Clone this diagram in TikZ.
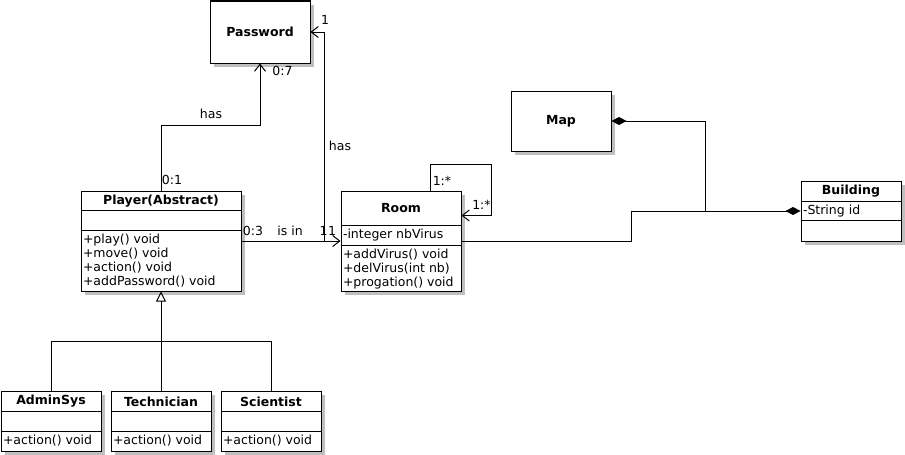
\documentclass[tikz,border=0pt]{standalone}
\usepackage{fontspec}
\setmainfont{DejaVu Sans}
\usetikzlibrary{calc}
\usetikzlibrary{arrows.meta, shadows}

\begin{document}
\begin{tikzpicture}[x=1pt, y=-1pt, line width=1pt,
    font=\fontsize{12.5}{14}\selectfont,
    classbox/.style={draw, fill=white, anchor=north west, inner sep=0pt,
        drop shadow={shadow xshift=4pt, shadow yshift=-4pt, fill=black!25, opacity=1}},
    title/.style={font=\fontsize{12.5}{14}\selectfont\bfseries, inner sep=0pt},
    members/.style={anchor=north west, align=left, inner sep=1pt},
    lbl/.style={inner sep=0pt},
    assoc/.style={-{Straight Barb[length=7pt, width=11pt]}},
    gen/.style={-{Triangle[open, length=10pt, width=10pt]}},
    comp/.style={-{Diamond[length=15pt, width=8pt]}}]

    \useasboundingbox (0,0) rectangle (905,455);

    % -------------------------------------------------------
    % 1. Simple classes (name only)
    % -------------------------------------------------------
    \node[classbox, minimum width=100pt, minimum height=62pt,
        font=\fontsize{12.5}{14}\selectfont\bfseries] (password) at (209.5,0.5) {Password};
    \node[classbox, minimum width=100pt, minimum height=60pt,
        font=\fontsize{12.5}{14}\selectfont\bfseries] (map) at (510.5,90.5) {Map};

    % -------------------------------------------------------
    % 2. Player (abstract)
    % -------------------------------------------------------
    \node[classbox, minimum width=160pt, minimum height=100pt] (player) at (80.5,190.5) {};
    \node[title] at ($(player.north)+(0,10.5)$) {Player(Abstract)};
    \draw ($(player.north west)+(0,20)$) -- ($(player.north east)+(0,20)$);
    \draw ($(player.north west)+(0,40)$) -- ($(player.north east)+(0,40)$);
    \node[members] at ($(player.north west)+(1,42)$)
        {+play() void\\+move() void\\+action() void\\+addPassword() void};

    % -------------------------------------------------------
    % 3. Room
    % -------------------------------------------------------
    \node[classbox, minimum width=120pt, minimum height=100pt] (room) at (340.5,190.5) {};
    \node[title] at ($(room.north)+(0,18)$) {Room};
    \draw ($(room.north west)+(0,35)$) -- ($(room.north east)+(0,35)$);
    \draw ($(room.north west)+(0,55)$) -- ($(room.north east)+(0,55)$);
    \node[members] at ($(room.north west)+(1,37)$) {-integer nbVirus};
    \node[members] at ($(room.north west)+(1,57)$)
        {+addVirus() void\\+delVirus(int nb)\\+progation() void};

    % -------------------------------------------------------
    % 4. Building
    % -------------------------------------------------------
    \node[classbox, minimum width=100pt, minimum height=60pt] (building) at (800.5,180.5) {};
    \node[title] at ($(building.north)+(0,10.5)$) {Building};
    \draw ($(building.north west)+(0,21)$) -- ($(building.north east)+(0,21)$);
    \draw ($(building.north west)+(0,40)$) -- ($(building.north east)+(0,40)$);
    \node[members] at ($(building.north west)+(1,23)$) {-String id};

    % -------------------------------------------------------
    % 5. Subclasses of Player
    % -------------------------------------------------------
    \foreach \c/\cname/\x in {admin/AdminSys/0, tech/Technician/110, sci/Scientist/220} {
        \node[classbox, minimum width=100pt, minimum height=60pt] (\c) at (\x+0.5,390.5) {};
        \node[title] at ($(\c.north)+(0,11)$) {\cname};
        \draw ($(\c.north west)+(0,21)$) -- ($(\c.north east)+(0,21)$);
        \draw ($(\c.north west)+(0,41)$) -- ($(\c.north east)+(0,41)$);
        \node[members] at ($(\c.north west)+(1,43)$) {+action() void};
    }

    % -------------------------------------------------------
    % 6. Associations
    % -------------------------------------------------------
    % Player has Password
    \draw[assoc] (player.north) -- ++(0,-65) -| (password.south);
    \node[lbl] at (211,114) {has};
    \node[lbl] at (282.5,71) {0:7};
    \node[lbl] at (172,180) {0:1};

    % Player is in Room
    \draw[assoc] (player.east) -- (room.west);
    \node[lbl] at (253,231) {0:3};
    \node[lbl] at (290,231) {is in};
    \node[lbl] at (323.5,231) {1};

    % Room has Password
    \coordinate (hasjoin) at ($(room.west)+(-16,0)$);
    \draw[assoc] (hasjoin) |- (password.east);
    \node[lbl] at (332,231) {1};
    \node[lbl] at (325,20) {1};
    \node[lbl] at (340,146) {has};

    % Room neighbours (self loop)
    \coordinate (loopa) at ($(room.north west)+(90,0)$);
    \draw[assoc] (loopa) -- ++(0,-26) -| ($(room.north east)+(30,25)$)
        -- ($(room.north east)+(0,25)$);
    \node[lbl] at (442,181) {1:*};
    \node[lbl] at (481.5,205) {1:*};

    % -------------------------------------------------------
    % 7. Compositions into Building
    % -------------------------------------------------------
    \draw[comp] (room.east) -- ++(170,0) |- (building.west);
    \coordinate (mapjoin) at ($(building.west)+(-95,0)$);
    \draw[{Diamond[length=15pt, width=8pt]}-] (map.east) -| (mapjoin);

    % -------------------------------------------------------
    % 8. Generalization
    % -------------------------------------------------------
    \coordinate (genjoin) at ($(player.south)+(0,50)$);
    \draw[gen] (genjoin) -- (player.south);
    \foreach \c in {admin, tech, sci} {
        \draw (\c.north) |- (genjoin);
    }
\end{tikzpicture}
\end{document}
